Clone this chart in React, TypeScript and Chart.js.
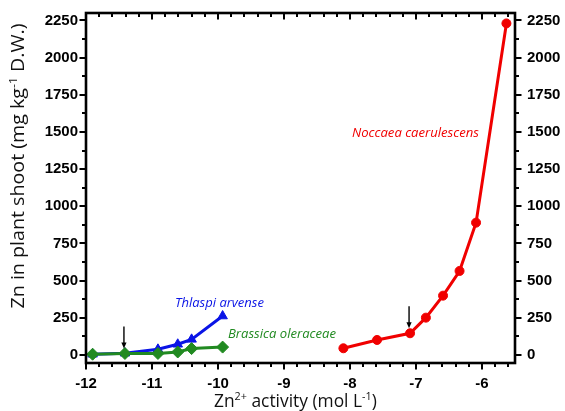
import { useEffect, useRef } from "react";
import { Chart, registerables } from "chart.js";

Chart.register(...registerables);

// Zn in shoot vs. free Zn2+ activity (log scale, mol/L)
const noccaeaX = [-8.1, -7.59, -7.09, -6.85, -6.59, -6.34, -6.09, -5.63];
const noccaeaY = [45, 101, 146, 251, 399, 565, 890, 2230];
const thlaspiX = [-11.9, -11.41, -10.91, -10.61, -10.4, -9.93];
const thlaspiY = [5, 12, 38, 72, 105, 262];
const brassicaX = [-11.9, -11.41, -10.91, -10.61, -10.4, -9.93];
const brassicaY = [5, 10, 10, 20, 43, 53];

const xTicks = [-12, -11, -10, -9, -8, -7, -6];
const yTicks = [0, 250, 500, 750, 1000, 1250, 1500, 1750, 2000, 2250];

// points marked with an arrow (x, y)
const arrowX = [-11.41, -7.09];
const arrowY = [10, 146];

const X_MIN = -12;
const X_MAX = -5.5;
const Y_MIN = -54;
const Y_MAX = 2300;

const RED = "#f00000";
const BLUE = "#0a14e6";
const GREEN = "#218a21";

const TICK_FONT = "'Liberation Sans', Arial, sans-serif";
const LABEL_FONT = "'Open Sans', 'Noto Sans', sans-serif";

type Part = { t: string; sup?: boolean };

function partFont(p: Part, size: number, style = "") {
  return `${style} ${p.sup ? size * 0.62 : size}px ${LABEL_FONT}`;
}

function richWidth(ctx: CanvasRenderingContext2D, parts: Part[], size: number, style = "") {
  let w = 0;
  for (const p of parts) {
    ctx.font = partFont(p, size, style);
    w += ctx.measureText(p.t).width;
  }
  return w;
}

function fitSize(ctx: CanvasRenderingContext2D, parts: Part[], width: number, style = "") {
  return (100 * width) / richWidth(ctx, parts, 100, style);
}

function drawRich(
  ctx: CanvasRenderingContext2D,
  parts: Part[],
  left: number,
  baseline: number,
  size: number,
  color: string,
  style = ""
) {
  let x = left;
  ctx.fillStyle = color;
  ctx.textAlign = "left";
  ctx.textBaseline = "alphabetic";
  for (const p of parts) {
    ctx.font = partFont(p, size, style);
    ctx.fillText(p.t, x, p.sup ? baseline - size * 0.38 : baseline);
    x += ctx.measureText(p.t).width;
  }
}

const yTitle: Part[] = [{ t: "Zn in plant shoot (mg kg" }, { t: "-1", sup: true }, { t: " D.W.)" }];
const xTitle: Part[] = [{ t: "Zn" }, { t: "2+", sup: true }, { t: " activity (mol L" }, { t: "-1", sup: true }, { t: ")" }];

const frameAndLabels = {
  id: "frameAndLabels",
  afterDatasetsDraw(chart: any) {
    const ctx: CanvasRenderingContext2D = chart.ctx;
    const { left, right, top, bottom } = chart.chartArea;
    const xs = chart.scales.x;
    const ys = chart.scales.y;
    ctx.save();

    // frame
    ctx.strokeStyle = "#000";
    ctx.lineWidth = 2.6;
    ctx.lineCap = "square";
    ctx.strokeRect(left, top, right - left, bottom - top);

    // ticks
    ctx.lineWidth = 2;
    ctx.lineCap = "butt";
    const MAJ = 6.5;
    const MIN = 4;
    for (let i = 0; ; i++) {
      const v = X_MIN + i * 0.2;
      if (v > X_MAX + 1e-6) break;
      const major = Math.abs(v - Math.round(v)) < 1e-6;
      const len = major ? MAJ : MIN;
      const px = Math.round(xs.getPixelForValue(v));
      ctx.beginPath();
      ctx.moveTo(px, bottom);
      ctx.lineTo(px, bottom + len);
      ctx.moveTo(px, top);
      ctx.lineTo(px, top + len);
      ctx.stroke();
    }
    for (let v = 0; v <= Y_MAX; v += 125) {
      const major = v % 250 === 0;
      const len = major ? MAJ : MIN;
      const py = Math.round(ys.getPixelForValue(v));
      ctx.beginPath();
      ctx.moveTo(left, py);
      ctx.lineTo(left - len, py);
      ctx.moveTo(right, py);
      ctx.lineTo(right + len, py);
      ctx.stroke();
    }

    // arrows
    ctx.strokeStyle = "#000";
    ctx.fillStyle = "#000";
    ctx.lineWidth = 1.4;
    arrowX.forEach((ax, i) => {
      const px = xs.getPixelForValue(ax) - 1;
      const tip = ys.getPixelForValue(arrowY[i]) - 5;
      ctx.beginPath();
      ctx.moveTo(px, tip - 22);
      ctx.lineTo(px, tip - 4);
      ctx.stroke();
      ctx.beginPath();
      ctx.moveTo(px - 2.6, tip - 6);
      ctx.lineTo(px + 2.6, tip - 6);
      ctx.lineTo(px, tip);
      ctx.closePath();
      ctx.fill();
    });

    // series names
    const names: [string, string, number, number, number][] = [
      ["Noccaea caerulescens", RED, 352, 479, 137],
      ["Thlaspi arvense", BLUE, 175, 264, 307],
      ["Brassica oleraceae", GREEN, 228, 336, 338],
    ];
    for (const [t, c, x0, x1, base] of names) {
      const parts = [{ t }];
      const size = fitSize(ctx, parts, x1 - x0, "italic");
      drawRich(ctx, parts, x0, base, size, c, "italic");
    }

    // axis titles
    const xs2 = fitSize(ctx, xTitle, 163);
    drawRich(ctx, xTitle, 214, 407, xs2, "#111");

    // vertical title, slightly widened to span the axis
    const ySize = 17.5;
    const yW = richWidth(ctx, yTitle, ySize);
    const stretch = 285 / yW;
    ctx.translate(23.5, 166);
    ctx.rotate(-Math.PI / 2);
    ctx.scale(stretch, 1);
    drawRich(ctx, yTitle, -yW / 2, 0, ySize, "#111");

    ctx.restore();
  },
};

const tickFont = { family: TICK_FONT, size: 15, weight: "bold" as const };

export default function App() {
  const ref = useRef<HTMLCanvasElement | null>(null);

  useEffect(() => {
    if (!ref.current) return;
    const yAxis = (position: "left" | "right", padding: number, width: number) => ({
      type: "linear" as const,
      position,
      min: Y_MIN,
      max: Y_MAX,
      grid: { display: false },
      border: { display: false },
      ticks: { font: tickFont, color: "#000", padding, callback: (v: any) => String(v) },
      afterBuildTicks: (s: any) => {
        s.ticks = yTicks.map((value) => ({ value }));
      },
      afterFit: (s: any) => {
        s.width = width;
      },
    });
    const chart = new Chart(ref.current, {
      type: "line",
      data: {
        datasets: [
          {
            label: "Brassica oleraceae",
            data: brassicaX.map((x, i) => ({ x, y: brassicaY[i] })),
            borderColor: GREEN,
            backgroundColor: GREEN,
            borderWidth: 3,
            pointStyle: "rectRot",
            pointRadius: 6,
            pointBorderWidth: 1,
            order: 0,
          },
          {
            label: "Thlaspi arvense",
            data: thlaspiX.map((x, i) => ({ x, y: thlaspiY[i] })),
            borderColor: BLUE,
            backgroundColor: BLUE,
            borderWidth: 3,
            pointStyle: "triangle",
            pointRadius: 5.5,
            pointBorderWidth: 1,
            order: 1,
          },
          {
            label: "Noccaea caerulescens",
            data: noccaeaX.map((x, i) => ({ x, y: noccaeaY[i] })),
            borderColor: RED,
            backgroundColor: RED,
            borderWidth: 3,
            pointStyle: "circle",
            pointRadius: 4.5,
            pointBorderWidth: 1,
            order: 2,
          },
        ],
      },
      options: {
        responsive: false,
        animation: false,
        devicePixelRatio: 1,
        layout: { padding: { top: 13, left: 0, right: 0, bottom: 0 } },
        plugins: { legend: { display: false }, tooltip: { enabled: false }, title: { display: false } },
        scales: {
          x: {
            type: "linear",
            position: "bottom",
            min: X_MIN,
            max: X_MAX,
            grid: { display: false },
            border: { display: false },
            ticks: {
              font: tickFont,
              color: "#000",
              padding: 4,
              maxRotation: 0,
              callback: (v: any) => String(v),
            },
            afterBuildTicks: (s: any) => {
              s.ticks = xTicks.map((value) => ({ value }));
            },
            afterFit: (s: any) => {
              s.height = 48;
            },
          },
          y: yAxis("left", 0, 86),
          y2: yAxis("right", 4, 50),
        },
      },
      plugins: [frameAndLabels],
    });
    return () => chart.destroy();
  }, []);

  return (
    <div style={{ position: "fixed", left: 0, top: 0, width: 565, height: 411, background: "#fff" }}>
      <canvas ref={ref} width={565} height={411} />
    </div>
  );
}
